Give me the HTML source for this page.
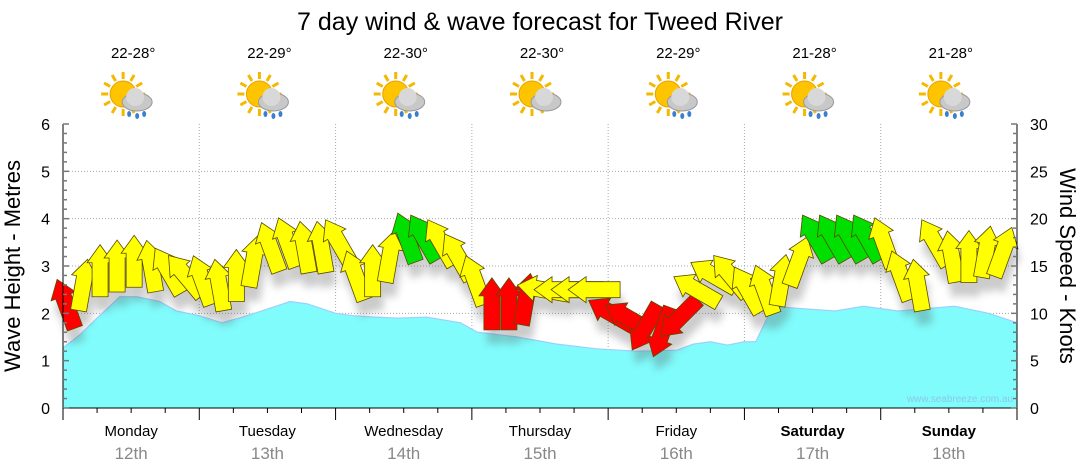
<!DOCTYPE html>
<html><head><meta charset="utf-8"><style>
html,body{margin:0;padding:0;background:#fff;}
svg{display:block;font-family:"Liberation Sans",sans-serif;}
</style></head><body>
<svg id="c" width="1080" height="475" viewBox="0 0 1080 475">
<defs><filter id="sh" x="-20%" y="-20%" width="140%" height="140%"><feGaussianBlur stdDeviation="4"/></filter></defs>
<text x="540" y="30" text-anchor="middle" font-size="25" fill="#000">7 day wind &amp; wave forecast for Tweed River</text>
<g id="grid"></g><g id="wave"></g><g id="shadow" filter="url(#sh)" opacity="0.3"></g><g id="wind"></g><g id="axes"></g><g id="hdr"></g>
<text x="1013" y="402" text-anchor="end" font-size="10" fill="#8cc8e8">www.seabreeze.com.au</text>
<text transform="translate(20,266) rotate(-90)" text-anchor="middle" font-size="22">Wave Height - Metres</text>
<text transform="translate(1060,266) rotate(90)" text-anchor="middle" font-size="22">Wind Speed - Knots</text>
</svg>
<script>
const days=["Monday","Tuesday","Wednesday","Thursday","Friday","Saturday","Sunday"];
const dates=["12th","13th","14th","15th","16th","17th","18th"];
const temps=["22-28°","22-29°","22-30°","22-30°","22-29°","21-28°","21-28°"];
const leftTicks=[0,1,2,3,4,5,6];
const rightTicks=[0,5,10,15,20,25,30];
const waveHours=[0,3,6,10,13,17,20,24,28,31,35,40,43,48,51,55,59,64,70,73,80,87,94,101,108,111,114,117,120,122,125,130,136,141,147,152,157,163,168];
const waveVals=[1.27,1.55,1.9,2.35,2.35,2.25,2.05,1.95,1.8,1.9,2.05,2.25,2.2,2.0,1.95,1.92,1.9,1.92,1.8,1.6,1.5,1.35,1.25,1.2,1.22,1.35,1.4,1.33,1.4,1.4,2.15,2.1,2.05,2.15,2.05,2.1,2.15,2.0,1.8];
const windHours=[0,3,6,9,12,15,18,21,24,27,30,33,36,39,42,45,48,51,54,57,60,63,66,69,72,75,78,81,84,87,90,93,96,99,102,105,108,111,114,117,120,123,126,129,132,135,138,141,144,147,150,153,156,159,162,165];
const windSpeeds=[11,13,14.5,15,15.5,15,14.5,14,13.5,13,14,15.5,17,17.5,17,17,17.5,14,14.5,16,18,18,17.5,16,13.5,11,11,11.5,12.5,12.5,12.5,12.5,10,9.5,8.5,8,9.5,12.5,14,14,12.5,12.5,13.5,15.5,18,18,18,18,17.5,14,13,17.5,16,16,16.5,16.5];
const windDirs=[-20,10,0,0,0,-10,-30,-40,-20,-10,0,10,-20,-20,-10,-10,-30,-20,0,10,-20,-30,-30,-30,-20,0,0,10,-80,-90,-90,-90,-60,-60,-150,-160,-135,-60,-60,-40,-30,-20,10,20,-30,-30,-30,-30,-20,-20,-10,-30,-10,0,10,20];
const NS="http://www.w3.org/2000/svg";
const X0=63,X1=1017,Y0=408,Y1=124;
const x=h=>X0+h/168*(X1-X0);
const yM=m=>Y0-m/6*(Y0-Y1);
const yK=k=>Y0-k/30*(Y0-Y1);
function mk(t,a,p){const e=document.createElementNS(NS,t);for(const k in a)e.setAttribute(k,a[k]);p.appendChild(e);return e;}
const grid=document.getElementById('grid'),axes=document.getElementById('axes'),hdr=document.getElementById('hdr');
leftTicks.forEach(v=>{if(v>0&&v<6){const l=mk('line',{x1:X0,x2:X1,y1:yM(v),y2:yM(v),stroke:'#aaa','stroke-dasharray':'1,2'},grid);}});
for(let d=1;d<7;d++){const l=mk('line',{x1:x(d*24),x2:x(d*24),y1:Y1,y2:Y0,stroke:'#aaa','stroke-dasharray':'1,2'},grid);}
let pts=[[x(0),Y0]];waveHours.forEach((h,i)=>pts.push([x(h),yM(waveVals[i])]));pts.push([x(168),Y0]);
const wp=mk('polygon',{points:pts.map(p=>p.join(',')).join(' '),fill:'#80fcfc',stroke:'none'},document.getElementById('wave'));

const wl=mk('polyline',{points:pts.slice(1,-1).map(p=>p.join(',')).join(' '),fill:'none',stroke:'#9bd0ff','stroke-width':1.2},document.getElementById('wave'));

const arrow="-8,26 8,26 8,-8 13,-8 0,-26 -13,-8 -8,-8";
const sh=document.getElementById('shadow'),wg=document.getElementById('wind');
windHours.forEach((h,i)=>{const s=windSpeeds[i];const cx=x(h)+3,cy=yK(s);
const col=s<12?'#ff0000':(s>17.5?'#00e000':'#ffff00');
mk('polygon',{points:arrow,fill:'#555',transform:`translate(${cx+3},${cy+14}) rotate(${windDirs[i]})`},sh);
const a=mk('polygon',{points:arrow,fill:col,stroke:'#5a4a00','stroke-width':0.8,transform:`translate(${cx},${cy}) rotate(${windDirs[i]})`},wg);
});
mk('line',{x1:X0,x2:X0,y1:Y1,y2:Y0,stroke:'#000'},axes);
mk('line',{x1:X1,x2:X1,y1:Y1,y2:Y0,stroke:'#000'},axes);
mk('line',{x1:X0,x2:X1,y1:Y0,y2:Y0,stroke:'#000'},axes);
for(let i=0;i<=30;i++){const yy=Y0-i*(Y0-Y1)/30;mk('line',{x1:X0,x2:X0+(i%5?4:6),y1:yy,y2:yy,stroke:'#777','stroke-width':1.5},axes);mk('line',{x1:X1-(i%5?4:6),x2:X1,y1:yy,y2:yy,stroke:'#777','stroke-width':1.5},axes);}
leftTicks.forEach(v=>{const t=mk('text',{x:50,y:yM(v)+6,'text-anchor':'end','font-size':16},axes);t.textContent=v;});
rightTicks.forEach(v=>{const t=mk('text',{x:1030,y:yK(v)+6,'font-size':16},axes);t.textContent=v;});
for(let q=0;q<=28;q++){mk('line',{x1:x(q*6),x2:x(q*6),y1:Y0,y2:Y0+(q%4?5:12),stroke:'#000'},axes);}
days.forEach((d,i)=>{const cx=x(i*24+12);const bold=i>=5;
const t=mk('text',{x:cx,y:436,'text-anchor':'middle','font-size':15,'font-weight':bold?'bold':'normal'},axes);t.textContent=d;
const t2=mk('text',{x:cx,y:459,'text-anchor':'middle','font-size':17,fill:'#888'},axes);t2.textContent=dates[i];
const t3=mk('text',{x:cx+2,y:58,'text-anchor':'middle','font-size':15},hdr);t3.textContent=temps[i];
const g=mk('g',{transform:`translate(${cx},98)`},hdr);
for(let r=0;r<12;r++){const an=r*30*Math.PI/180;mk('line',{x1:-8+Math.cos(an)*15,y1:-4+Math.sin(an)*15,x2:-8+Math.cos(an)*22,y2:-4+Math.sin(an)*22,stroke:'#f5b800','stroke-width':3},g);}
mk('circle',{cx:-8,cy:-4,r:13,fill:'#ffc400',stroke:'#e8a000'},g);
mk('ellipse',{cx:6,cy:4,rx:15,ry:9,fill:'#c8c8c8',stroke:'#999'},g);
mk('circle',{cx:4,cy:-1,r:9,fill:'#d8d8d8'},g);
if(i!==3){[[-2,16],[6,18],[13,16]].forEach(p=>mk('ellipse',{cx:p[0],cy:p[1],rx:2,ry:3,fill:'#3a7fd0'},g));}
});
</script>
</body></html>
